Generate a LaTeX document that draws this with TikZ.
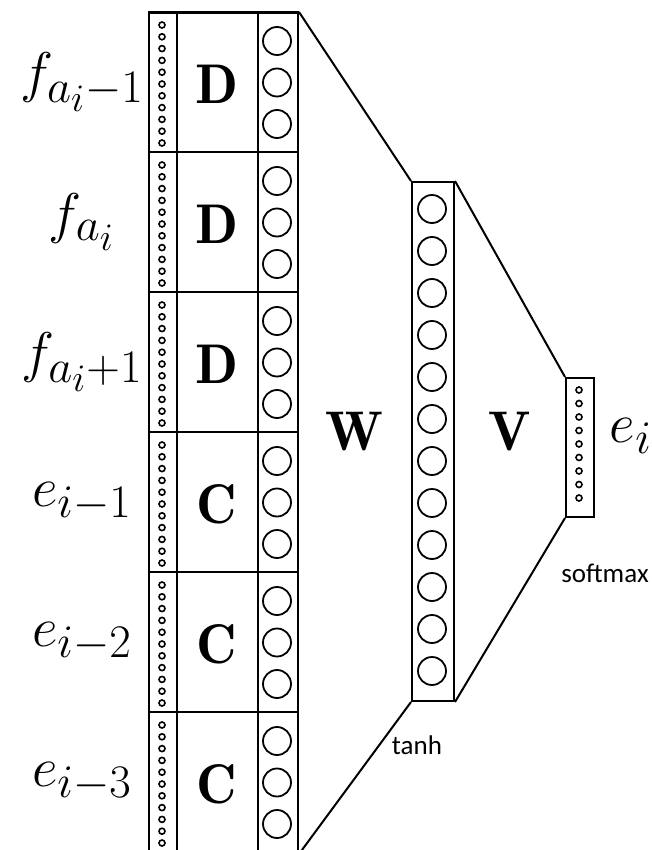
\documentclass[tikz,border=0pt]{standalone}
\usepackage{fontspec}
\newfontfamily\actfont{Carlito}
\usetikzlibrary{positioning}

\tikzset{
  layer/.style={draw, line width=2pt, inner sep=0pt},
  unit/.style={draw, line width=1.8pt},
  dot/.style={draw, line width=1.6pt},
  big/.style={font=\Huge, scale=2.25},
  act/.style={font=\actfont\fontsize{27}{30}\selectfont}
}

\begin{document}
\begin{tikzpicture}[x=1pt,y=-1pt]
  \useasboundingbox (0,0) rectangle (651,850);

  % Input columns
  \node[layer, minimum width=28pt, minimum height=840pt, anchor=north west] (emb) at (148,12) {};
  \node[layer, minimum width=81pt, minimum height=840pt, anchor=north west] (proj) at (176,12) {};
  \node[layer, minimum width=40pt, minimum height=840pt, anchor=north west] (inp) at (257,12) {};

  % Rows of the context window
  \foreach \lab/\mat [count=\r from 0] in {{f_{a_i-1}}/D, {f_{a_i}}/D, {f_{a_i+1}}/D,
                                          {e_{i-1}}/C, {e_{i-2}}/C, {e_{i-3}}/C} {
    \pgfmathsetmacro\top{12+140*\r}
    \draw[line width=2pt] (emb.west |- 0,\top) -- (inp.east |- 0,\top);
    \node[big] (lab\r) at (82,\top+70) {$\lab$};
    \node[big] (mat\r) at (216.5,\top+72) {$\mathbf{\mat}$};
    \foreach \k in {0,1,2}
      \draw[unit] (277,\top+29+41.5*\k) circle[radius=14];
    \foreach \k in {0,...,10}
      \draw[dot] (162,\top+13+11.8*\k) circle[radius=3];
  }

  % Hidden layer
  \node[layer, minimum width=42pt, minimum height=519pt, anchor=north west] (hid) at (411,181) {};
  \foreach \k in {0,...,11}
    \draw[unit] (432,209+42*\k) circle[radius=14];

  % Output layer
  \node[layer, minimum width=28pt, minimum height=139pt, anchor=north west] (out) at (565,377) {};
  \foreach \k in {0,...,8}
    \draw[dot] (579,390+13.5*\k) circle[radius=3];

  % Weights
  \draw[line width=2pt] (inp.north east) -- (hid.north west);
  \draw[line width=2pt] (inp.south east) -- (hid.south west);
  \draw[line width=2pt] (hid.north east) -- (out.north west);
  \draw[line width=2pt] (hid.south east) -- (out.south west);

  \node[big] (W) at (354,432) {$\mathbf{W}$};
  \node[big] (V) at (510,432) {$\mathbf{V}$};
  \node[big, anchor=base] (ei) at (631,442) {$e_i$};

  % Activations
  \node[act] (tanh) at (417,745) {tanh};
  \node[act] (softmax) at (605,573) {softmax};
\end{tikzpicture}
\end{document}
